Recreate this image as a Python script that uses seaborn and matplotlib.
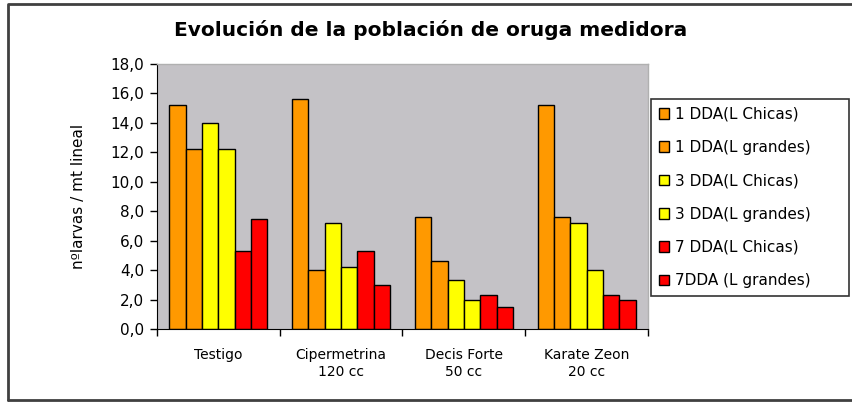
import matplotlib
matplotlib.use("Agg")
import matplotlib.pyplot as plt
import matplotlib.patches as mpatches
import pandas as pd
import seaborn as sns

tratamientos = ["Testigo", "Cipermetrina\n120 cc", "Decis Forte\n50 cc", "Karate Zeon\n20 cc"]
series = ["1 DDA(L Chicas)", "1 DDA(L grandes)", "3 DDA(L Chicas)",
          "3 DDA(L grandes)", "7 DDA(L Chicas)", "7DDA (L grandes)"]
colores = ["#FF9900", "#FF9900", "#FFFF00", "#FFFF00", "#FF0000", "#FF0000"]

dda1_chicas = [15.2, 15.6, 7.6, 15.2]
dda1_grandes = [12.2, 4.0, 4.6, 7.6]
dda3_chicas = [14.0, 7.2, 3.3, 7.2]
dda3_grandes = [12.2, 4.2, 2.0, 4.0]
dda7_chicas = [5.3, 5.3, 2.3, 2.3]
dda7_grandes = [7.5, 3.0, 1.5, 2.0]

valores = [dda1_chicas, dda1_grandes, dda3_chicas, dda3_grandes, dda7_chicas, dda7_grandes]
rows = []
for s, vals in zip(series, valores):
    for t, v in zip(tratamientos, vals):
        rows.append({"tratamiento": t, "serie": s, "valor": v})
df = pd.DataFrame(rows)

sns.set_style("white")
plt.rcParams['font.family'] = ['DejaVu Sans']
plt.rcParams['text.color'] = 'black'
plt.rcParams['axes.labelcolor'] = 'black'
plt.rcParams['xtick.color'] = 'black'
plt.rcParams['ytick.color'] = 'black'

fig = plt.figure(figsize=(8.53, 4.03), dpi=100)
ax = fig.add_axes([157/853, 1 - 329/403, 491/853, 265/403])
ax.set_facecolor("#C4C2C6")

sns.barplot(data=df, x="tratamiento", y="valor", hue="serie", hue_order=series,
            order=tratamientos, palette=colores, width=0.8, edgecolor="black",
            linewidth=1.0, saturation=1, ax=ax, legend=False)

ax.set_ylim(0, 18)
ax.set_xlim(-0.5, 3.5)
ax.set_yticks([0, 2, 4, 6, 8, 10, 12, 14, 16, 18])
ax.set_yticklabels([f"{v:.1f}".replace(".", ",") for v in ax.get_yticks()], fontsize=11)
ax.set_xticks(range(4))
ax.set_xticklabels(tratamientos, fontsize=10)
ax.set_xticks([-0.5, 0.5, 1.5, 2.5, 3.5], minor=True)
ax.tick_params(axis="x", which="major", length=0, pad=14)
ax.tick_params(axis="x", which="minor", length=5, width=1, direction="out", bottom=True)
ax.tick_params(axis="y", length=5, width=1, direction="out", left=True, pad=4)
ax.set_xlabel("")
ax.set_ylabel("nºlarvas / mt lineal", fontsize=11, labelpad=18)

for side in ["top", "right"]:
    ax.spines[side].set_visible(True)
    ax.spines[side].set_color("#B0B0B0")
    ax.spines[side].set_linewidth(1)
ax.spines["left"].set_color("black")
ax.spines["bottom"].set_color("black")

fig.text(431/853, 1 - 30/403, "Evolución de la población de oruga medidora",
         ha="center", va="center", fontsize=14.5, fontweight="bold")

handles = [mpatches.Patch(facecolor=c, edgecolor="black", linewidth=1) for c in colores]
leg = fig.legend(handles, series, loc="upper left",
                 bbox_to_anchor=(651/853, 1 - 295/403, 198/853, 196/403),
                 mode="expand", fontsize=11, frameon=True, fancybox=False,
                 handlelength=0.7, handleheight=0.7, handletextpad=0.35,
                 labelspacing=1.2, borderpad=0.5, borderaxespad=0)
leg.get_frame().set_edgecolor("black")
leg.get_frame().set_linewidth(1.2)

fig.add_artist(plt.Line2D([8/853, 8/853, 853/853], [1 - 400/403, 1 - 4/403, 1 - 4/403],
                          transform=fig.transFigure, color="#404040", linewidth=2))
fig.add_artist(plt.Line2D([8/853, 853/853], [1 - 400/403, 1 - 400/403],
                          transform=fig.transFigure, color="#404040", linewidth=2))

fig.savefig("out.png", dpi=100, facecolor="white")
